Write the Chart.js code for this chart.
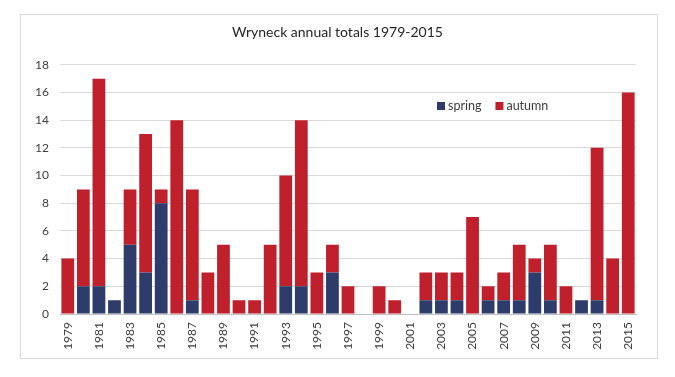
<!DOCTYPE html>
<html lang="en">
<head>
  <meta charset="UTF-8" />
  <title>Wryneck annual totals 1979-2015</title>
  <script src="https://cdn.jsdelivr.net/npm/chart.js"></script>
  <style>
    html, body { margin: 0; padding: 0; background: #fff; }
    #frame { position: absolute; left: 20px; top: 14px; width: 636px; height: 343px; border: 1px solid #d9d9d9; }
    #wrap { position: absolute; left: 0; top: 0; width: 675px; height: 377px; }
  </style>
</head>
<body>
  <div id="frame"></div>
  <div id="wrap"><canvas id="chart" width="675" height="377"></canvas></div>

  <script>
    // data
    const years = [];
    for (let y = 1979; y <= 2015; y++) years.push(String(y));

    const spring = [0, 2, 2, 1, 5, 3, 8, 0, 1, 0, 0, 0, 0, 0, 2, 2, 0, 3, 0, 0,
                    0, 0, 0, 1, 1, 1, 0, 1, 1, 1, 3, 1, 0, 1, 1, 0, 0];
    const autumn = [4, 7, 15, 0, 4, 10, 1, 14, 8, 3, 5, 1, 1, 5, 8, 12, 3, 2, 2, 0,
                    2, 1, 0, 2, 2, 2, 7, 1, 2, 4, 1, 4, 2, 0, 11, 4, 16];
    const yTicks = [0, 2, 4, 6, 8, 10, 12, 14, 16, 18];

    const BLUE = '#2e3c6c';
    const RED = '#c0202b';
    const FONT = 'Lato, "Open Sans", sans-serif';

    // small legend drawn inside the plot, like the Excel original
    const insideLegend = {
      id: 'insideLegend',
      afterDraw(chart) {
        const ctx = chart.ctx;
        let x = 437, y = 106;
        ctx.save();
        ctx.font = '12.5px ' + FONT;
        ctx.textBaseline = 'middle';
        chart.data.datasets.forEach(ds => {
          ctx.fillStyle = ds.backgroundColor;
          ctx.fillRect(x, y - 4, 8, 8);
          ctx.fillStyle = '#404040';
          ctx.fillText(ds.label, x + 11, y);
          x += ctx.measureText(ds.label).width + 11 + 14;
        });
        ctx.restore();
      }
    };

    new Chart(document.getElementById('chart'), {
      type: 'bar',
      data: {
        labels: years,
        datasets: [
          { label: 'spring', data: spring, backgroundColor: BLUE },
          { label: 'autumn', data: autumn, backgroundColor: RED }
        ]
      },
      options: {
        responsive: false,
        animation: false,
        layout: { padding: 0 },
        datasets: { bar: { categoryPercentage: 1, barPercentage: 0.82 } },
        plugins: {
          legend: { display: false },
          tooltip: { enabled: false },
          title: {
            display: true,
            text: 'Wryneck annual totals 1979-2015',
            color: '#262626',
            font: { family: FONT, size: 14, weight: 'normal' },
            padding: { top: 24, bottom: 24 }
          }
        },
        scales: {
          x: {
            stacked: true,
            grid: { display: false, drawTicks: false },
            border: { color: '#bfbfbf' },
            ticks: {
              autoSkip: false,
              minRotation: 90,
              maxRotation: 90,
              padding: 8,
              color: '#404040',
              font: { family: FONT, size: 12 },
              callback: function (v, i) { return i % 2 === 0 ? this.getLabelForValue(v) : ''; }
            },
            afterFit: s => { s.height = 63; }
          },
          y: {
            stacked: true,
            min: 0,
            max: 18,
            afterBuildTicks: s => { s.ticks = yTicks.map(v => ({ value: v })); },
            grid: { color: '#d9d9d9', drawTicks: false },
            border: { display: false },
            ticks: {
              padding: 11,
              color: '#404040',
              font: { family: FONT, size: 12 }
            },
            afterFit: s => { s.width = 60; }
          },
          // empty right margin so the title centres on the whole frame
          yRight: {
            type: 'linear',
            position: 'right',
            grid: { display: false, drawTicks: false },
            border: { display: false },
            ticks: { display: false },
            afterFit: s => { s.width = 39; }
          }
        }
      },
      plugins: [insideLegend]
    });
  </script>
</body>
</html>
